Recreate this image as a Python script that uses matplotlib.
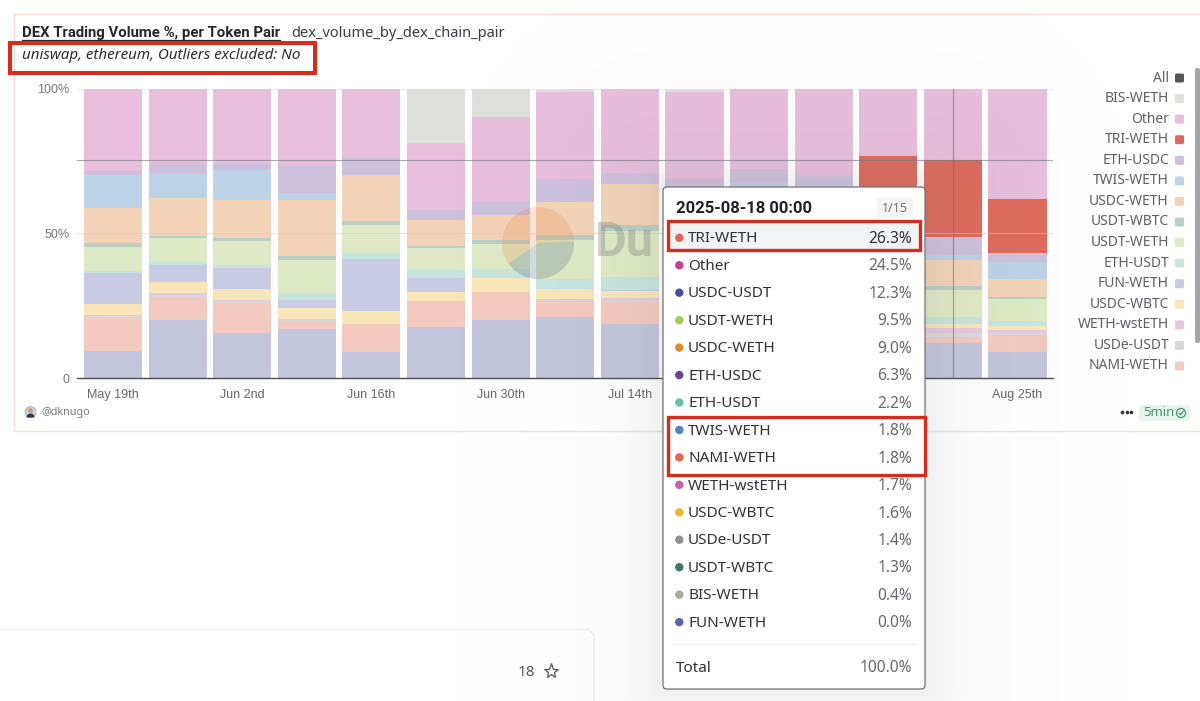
#!/usr/bin/env python

import numpy as np
from matplotlib import pyplot
from matplotlib.patches import Circle, FancyBboxPatch, Rectangle, Wedge

W, H = 1200, 701
BODY = 'Noto Sans'
HEAVY = 'Roboto'
AXIS = 'Liberation Sans'
RED = '#d92a1c'

weeks = ['May 19th', 'May 26th', 'Jun 2nd', 'Jun 9th', 'Jun 16th', 'Jun 23rd', 'Jun 30th', 'Jul 7th',
         'Jul 14th', 'Jul 21st', 'Jul 28th', 'Aug 4th', 'Aug 11th', 'Aug 18th', 'Aug 25th']
# the tooltip hides Jul 28th and Aug 11th
labelled_weeks = ['May 19th', 'Jun 2nd', 'Jun 16th', 'Jun 30th', 'Jul 14th', 'Aug 25th']

# share of volume per week, bottom of the stack first
usdc_usdt = [9.5, 20.1, 15.5, 17.0, 9.0, 17.8, 20.1, 21.0, 18.7, 19.0, 18.0, 17.0, 13.0, 12.3, 9.1]
nami_weth = [11.7, 7.8, 10.4, 2.5, 9.6, 8.6, 9.6, 5.8, 7.5, 6.0, 7.0, 7.0, 4.0, 1.8, 5.8]
usde_usdt = [0.3, 1.0, 0.7, 0.5, 0.2, 0.1, 0.1, 0.3, 0.8, 0.5, 0.5, 0.5, 1.5, 1.4, 0.9]
weth_wsteth = [0.2, 0.6, 0.4, 0.4, 0.1, 0.1, 0.1, 0.4, 0.6, 0.5, 0.5, 0.5, 1.5, 1.7, 0.9]
usdc_wbtc = [3.9, 3.6, 3.7, 3.7, 4.3, 3.1, 4.6, 3.2, 2.6, 3.0, 3.0, 3.0, 2.0, 1.6, 1.4]
fun_weth = [10.8, 6.0, 7.4, 2.9, 17.8, 4.8, 0.0, 0.1, 0.1, 0.2, 0.2, 0.2, 0.1, 0.0, 0.0]
eth_usdt = [0.6, 1.1, 1.0, 2.5, 2.1, 2.8, 3.1, 3.3, 4.7, 4.0, 4.0, 4.0, 2.5, 2.2, 1.8]
usdt_weth = [8.2, 8.1, 8.2, 11.3, 9.9, 7.5, 8.9, 13.6, 15.8, 14.0, 15.0, 16.0, 10.0, 9.5, 7.5]
usdt_wbtc = [1.6, 0.9, 1.1, 1.4, 1.4, 0.8, 1.2, 1.7, 2.1, 2.0, 2.0, 2.0, 1.5, 1.3, 0.7]
usdc_weth = [12.0, 13.1, 13.0, 19.2, 15.7, 9.0, 8.6, 11.3, 14.0, 14.0, 14.0, 13.0, 9.0, 9.0, 6.0]
twis_weth = [11.3, 8.4, 10.4, 2.4, 0.0, 0.0, 0.0, 0.0, 0.0, 1.0, 3.1, 3.5, 2.0, 1.8, 5.9]
eth_usdc = [1.5, 3.6, 2.3, 9.5, 5.9, 3.4, 4.6, 8.0, 4.1, 4.4, 4.9, 3.2, 6.0, 6.3, 3.2]
tri_weth = [0.0, 0.0, 0.0, 0.0, 0.0, 0.0, 0.0, 0.0, 0.0, 0.0, 0.0, 0.0, 23.7, 26.3, 18.8]
other = [28.4, 25.7, 25.9, 26.7, 24.0, 23.2, 29.1, 30.1, 29.0, 30.2, 27.8, 30.1, 23.2, 24.5, 38.0]
bis_weth = [0.0, 0.0, 0.0, 0.0, 0.0, 18.8, 10.0, 1.2, 0.0, 1.2, 0.0, 0.0, 0.0, 0.4, 0.0]

series = [usdc_usdt, nami_weth, usde_usdt, weth_wsteth, usdc_wbtc, fun_weth, eth_usdt, usdt_weth,
          usdt_wbtc, usdc_weth, twis_weth, eth_usdc, tri_weth, other, bis_weth]
colors = ['#c3c5dc', '#f4c9bf', '#d8d8da', '#e4c8de', '#f8e6b8', '#c9cbe4', '#c8e4de', '#deeac5',
          '#b9cfc6', '#f2d3b7', '#bcd3e7', '#cdc0dd', '#dc6a5c', '#e7bedb', '#dfe0dc']

legend_names = ['All', 'BIS-WETH', 'Other', 'TRI-WETH', 'ETH-USDC', 'TWIS-WETH', 'USDC-WETH', 'USDT-WBTC',
                'USDT-WETH', 'ETH-USDT', 'FUN-WETH', 'USDC-WBTC', 'WETH-wstETH', 'USDe-USDT', 'NAMI-WETH']
legend_colors = ['#55565c', '#dfe0dc', '#e7bedb', '#dc6a5c', '#cdc0dd', '#bcd3e7', '#f2d3b7', '#b9cfc6',
                 '#deeac5', '#c8e4de', '#c9cbe4', '#f8e6b8', '#e4c8de', '#d8d8da', '#f4c9bf']

tip_names = ['TRI-WETH', 'Other', 'USDC-USDT', 'USDT-WETH', 'USDC-WETH', 'ETH-USDC', 'ETH-USDT', 'TWIS-WETH',
             'NAMI-WETH', 'WETH-wstETH', 'USDC-WBTC', 'USDe-USDT', 'USDT-WBTC', 'BIS-WETH', 'FUN-WETH']
tip_values = ['26.3%', '24.5%', '12.3%', '9.5%', '9.0%', '6.3%', '2.2%', '1.8%',
              '1.8%', '1.7%', '1.6%', '1.4%', '1.3%', '0.4%', '0.0%']
tip_colors = ['#e2675a', '#c4418f', '#4d5096', '#a6cc55', '#e08a2e', '#67449c', '#6fbfa8', '#4a86c0',
              '#e2674c', '#c262ad', '#efb431', '#8f8f92', '#3a7a68', '#aaab9c', '#5f63ab']


def main():
    fig = pyplot.figure(figsize=(W / 100, H / 100), dpi=100, facecolor='white')

    # bars, axes placed so that the plot area lands on the same pixels as the dashboard
    ax = fig.add_axes([77 / W, (H - 378.3) / H, 976 / W, 289.8 / H], zorder=1)
    x = np.arange(len(weeks))
    bottom = np.zeros(len(weeks))
    for values, color in zip(series, colors):
        ax.bar(x, values, width=0.9, bottom=bottom, color=color, linewidth=0, zorder=2)
        bottom += np.array(values)

    ax.set_xlim(-0.557, 14.55)
    ax.set_ylim(0, 100)
    ax.set_xticks([weeks.index(w) for w in labelled_weeks], labelled_weeks, family=AXIS, fontsize=9, color='#666666')
    ax.set_yticks([0, 50, 100], ['0', '50%', '100%'], family=AXIS, fontsize=9, color='#777777')
    ax.tick_params(axis='both', length=0)
    ax.tick_params(axis='x', pad=7.5)
    ax.tick_params(axis='y', pad=5.5)
    for side in ['top', 'right', 'left']:
        ax.spines[side].set_visible(False)
    ax.spines['bottom'].set_color('#4a4c54')
    ax.spines['bottom'].set_linewidth(1)
    ax.set_facecolor('none')
    ax.axhline(100, color='#ededed', linewidth=0.7, zorder=1)
    ax.axhline(50, color='#cfcfcf', alpha=0.55, linewidth=0.7, zorder=3)
    # crosshair of the hovered bar
    ax.axhline(75.2, color='#7d7a88', alpha=0.65, linewidth=0.8, zorder=3)
    ax.axvline(13, color='#6f6c80', alpha=0.65, linewidth=0.8, zorder=3)

    # everything else is page furniture, drawn in pixel coordinates
    top = fig.add_axes([0, 0, 1, 1], zorder=2)
    top.set_axis_off()
    top.patch.set_alpha(0)

    # soft glow around the tooltip
    px, py = np.meshgrid(np.arange(W) + 0.5, np.arange(H) + 0.5)
    dx = np.maximum(np.maximum(663 - px, px - 925), 0)
    dy = np.maximum(np.maximum(187 - py, py - 689), 0)
    dist = np.hypot(dx, dy)
    glow = np.zeros((H, W, 4))
    glow[..., :3] = 0.45
    glow[..., 3] = 0.09 * np.exp(-dist / 28) + 0.025 * np.exp(-dist / 110)
    top.imshow(glow, extent=(0, W, H, 0), aspect='auto', zorder=4, interpolation='nearest')
    top.set_xlim(0, W)
    top.set_ylim(H, 0)

    # card
    top.plot([1200, 13.5, 13.5, 1200], [14, 14, 431, 431], color='#f6dccf', linewidth=1)

    top.text(21.5, 33, 'DEX Trading Volume %, per Token Pair', family=HEAVY, fontsize=10.75, weight='bold',
             color='#24262b', va='center')
    top.plot([21.5, 280], [40, 40], color='#24262b', linewidth=0.9)
    top.text(291, 33.5, 'dex_volume_by_dex_chain_pair', family=BODY, fontsize=10.5, color='#3a3c42', va='center')
    top.text(22, 55.5, 'uniswap, ethereum, Outliers excluded: No', family=BODY, fontsize=10.9, style='italic',
             color='#2b2d33', va='center')
    top.add_patch(Rectangle((10, 42.5), 304.5, 30, fill=False, edgecolor=RED, linewidth=2.9, zorder=8))

    # watermark
    top.add_patch(Wedge((538, 243), 36, -215, -2, facecolor='#ee7b3c', alpha=0.2, linewidth=0))
    top.add_patch(Wedge((538, 243), 36, -2, 145, facecolor='#4b6488', alpha=0.24, linewidth=0))
    top.text(595, 243, 'Du', family=HEAVY, fontsize=35, weight='bold', color='#707070', alpha=0.3, va='center')

    # legend
    for i, (name, color) in enumerate(zip(legend_names, legend_colors)):
        y = 78 + i * 20.57
        top.text(1169, y, name, family=BODY, fontsize=10, color='#5d5f66', ha='right', va='center')
        top.add_patch(FancyBboxPatch((1175, y - 4.5), 9, 9, boxstyle='round,pad=0,rounding_size=1.5',
                                     facecolor=color, linewidth=0))
    top.add_patch(FancyBboxPatch((1195, 68), 5, 275, boxstyle='round,pad=0,rounding_size=2',
                                 facecolor='#a3a6ab', linewidth=0))

    # footer
    top.add_patch(Circle((30.5, 412), 5.5, facecolor='#c7d3dc', edgecolor='#9aa7b3', linewidth=0.5))
    top.add_patch(Circle((30.5, 410.5), 2.2, facecolor='#d9925f', linewidth=0))
    top.add_patch(Wedge((30.5, 417.5), 4, 180, 360, facecolor='#2a3550', linewidth=0))
    top.text(41, 412, '@dknugo', family=BODY, fontsize=7.8, color='#77797f', va='center')
    top.plot([1122, 1126.5, 1131], [412, 412, 412], marker='o', markersize=1.6, color='#333333', linestyle='none')
    top.add_patch(FancyBboxPatch((1139, 405), 51, 16, boxstyle='round,pad=0,rounding_size=3',
                                 facecolor='#e6f5ec', linewidth=0))
    top.text(1143, 413, '5min', family=BODY, fontsize=9.4, color='#4c8f70', va='center')
    top.add_patch(Circle((1181, 413), 4.5, fill=False, edgecolor='#4c8f70', linewidth=0.9))
    top.plot([1179, 1180.5, 1183.2], [413, 414.8, 411.3], color='#4c8f70', linewidth=0.9)

    # panel under the card
    top.plot([0, 588], [629, 629], color='#eeeeee', linewidth=1)
    top.plot([588, 594, 594], [629, 635, 701], color='#eeeeee', linewidth=1)
    top.text(526, 672, '18', family=BODY, fontsize=11, color='#55575c', ha='center', va='center')
    top.plot([551], [671], marker='*', markersize=11, markerfacecolor='none', markeredgecolor='#55575c',
             markeredgewidth=0.9, linestyle='none')

    # tooltip
    top.add_patch(FancyBboxPatch((663, 187), 262, 502, boxstyle='round,pad=0,rounding_size=4',
                                 facecolor='white', edgecolor='#70727a', linewidth=0.9, zorder=5))
    top.text(675.5, 208.5, '2025-08-18 00:00', family=HEAVY, fontsize=12, weight='bold', color='#1f2126',
             va='center', zorder=6)
    top.add_patch(FancyBboxPatch((877, 198), 36, 20, boxstyle='round,pad=0,rounding_size=2',
                                 facecolor='#f5f5f6', linewidth=0, zorder=6))
    top.text(895, 208, '1/15', family=BODY, fontsize=9, color='#6d6f75', ha='center', va='center', zorder=7)
    top.add_patch(Rectangle((668, 224), 252, 26, facecolor='#f1f3f5', linewidth=0, zorder=6))

    for i, (name, value, color) in enumerate(zip(tip_names, tip_values, tip_colors)):
        y = 239 + i * 27.45
        top.add_patch(Circle((679.3, y - 1.2), 4.2, facecolor=color, linewidth=0, zorder=7))
        top.text(688, y, name, family=BODY, fontsize=11, color='#2f3136', va='center', zorder=7)
        top.text(912, y, value, family=BODY, fontsize=11.2, color='#2f3136' if i == 0 else '#66686e', ha='right',
                 va='center', zorder=7)

    top.plot([672, 916], [644, 644], color='#f0f0f0', linewidth=0.9, zorder=6)
    top.text(675.5, 668.5, 'Total', family=BODY, fontsize=11, color='#2f3136', va='center', zorder=7)
    top.text(912, 668.5, '100.0%', family=BODY, fontsize=11.2, color='#66686e', ha='right', va='center', zorder=7)

    # red highlight boxes
    top.add_patch(Rectangle((668, 221), 252, 29, fill=False, edgecolor=RED, linewidth=2.4, zorder=8))
    top.add_patch(Rectangle((668, 416.5), 256.5, 58.5, fill=False, edgecolor=RED, linewidth=2.4, zorder=8))

    fig.savefig('out.png', dpi=100)
    pyplot.close(fig)


if __name__ == "__main__":
    main()
